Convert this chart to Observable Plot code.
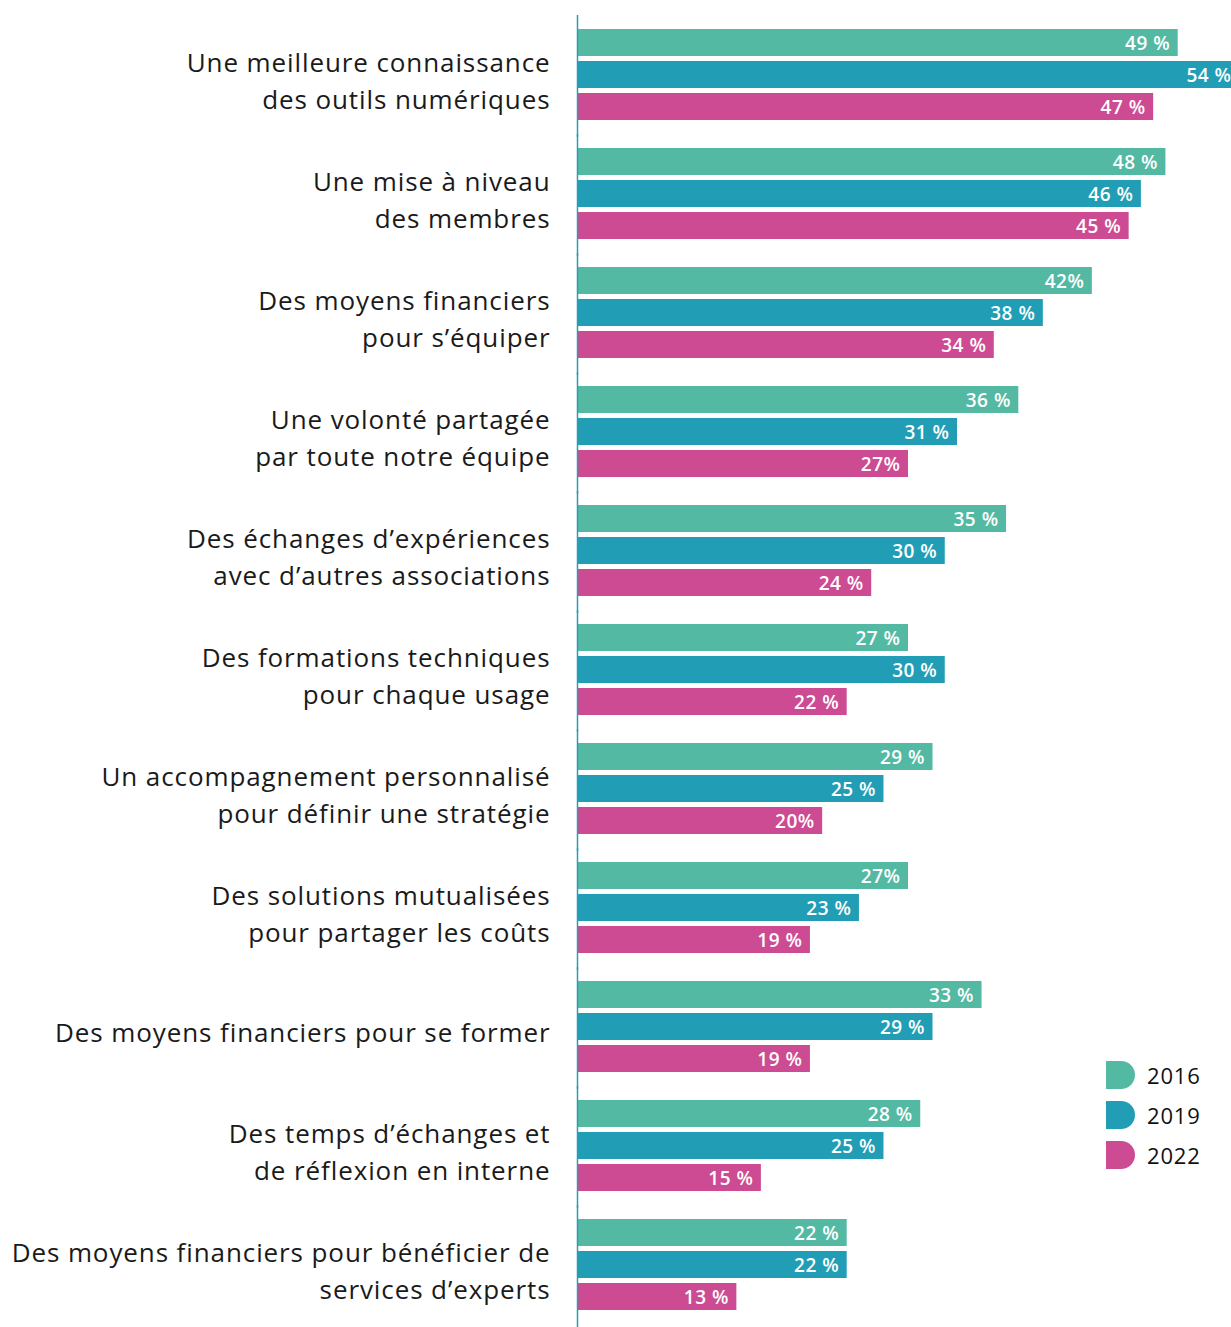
<!DOCTYPE html>
<html>
<head>
<meta charset="utf-8">
<script src="https://cdn.jsdelivr.net/npm/d3@7"></script>
<script src="https://cdn.jsdelivr.net/npm/@observablehq/plot@0.6"></script>
<style>
  html, body { margin: 0; padding: 0; background: #fff; }
  #wrap { position: relative; width: 1231px; height: 1327px; }
  #legend { position: absolute; left: 1106px; top: 1061px; font-family: "Open Sans", sans-serif; font-size: 22px; color: #111; letter-spacing: 0.8px; }
  .item { display: flex; align-items: center; height: 28px; margin-bottom: 12px; }
  .sw { width: 29px; height: 28px; border-radius: 0 14px 14px 0; margin-right: 12px; }
</style>
</head>
<body>
<div id="wrap">
  <div id="chart"></div>
  <div id="legend"></div>
</div>
<script>
const categories = [
  "Une meilleure connaissance\ndes outils numériques",
  "Une mise à niveau\ndes membres",
  "Des moyens financiers\npour s’équiper",
  "Une volonté partagée\npar toute notre équipe",
  "Des échanges d’expériences\navec d’autres associations",
  "Des formations techniques\npour chaque usage",
  "Un accompagnement personnalisé\npour définir une stratégie",
  "Des solutions mutualisées\npour partager les coûts",
  "Des moyens financiers pour se former",
  "Des temps d’échanges et\nde réflexion en interne",
  "Des moyens financiers pour bénéficier de\nservices d’experts"
];
const years = ["2016", "2019", "2022"];
const colors = ["#54b9a3", "#219eb5", "#cd4b93"];
const values2016 = [49, 48, 42, 36, 35, 27, 29, 27, 33, 28, 22];
const values2019 = [54, 46, 38, 31, 30, 30, 25, 23, 29, 25, 22];
const values2022 = [47, 45, 34, 27, 24, 22, 20, 19, 19, 15, 13];
const labels2016 = ["49 %", "48 %", "42%", "36 %", "35 %", "27 %", "29 %", "27%", "33 %", "28 %", "22 %"];
const labels2019 = ["54 %", "46 %", "38 %", "31 %", "30 %", "30 %", "25 %", "23 %", "29 %", "25 %", "22 %"];
const labels2022 = ["47 %", "45 %", "34 %", "27%", "24 %", "22 %", "20%", "19 %", "19 %", "15 %", "13 %"];

const series = [values2016, values2019, values2022];
const seriesLabels = [labels2016, labels2019, labels2022];
const data = [];
categories.forEach((c, i) => {
  years.forEach((y, j) => {
    data.push({cat: c, year: y, value: series[j][i], label: seriesLabels[j][i]});
  });
});

const font = '"Open Sans", sans-serif';

const chart = Plot.plot({
  width: 1231,
  height: 1327,
  marginLeft: 577,
  marginRight: 0,
  marginTop: 29,
  marginBottom: 16,
  style: {fontFamily: font, overflow: "hidden", background: "#fff"},
  x: {domain: [0, 53.35], axis: null},
  y: {domain: years, axis: null, paddingInner: 0.147, paddingOuter: 0},
  fy: {domain: categories, axis: null, paddingInner: 0.227, paddingOuter: 0},
  color: {domain: years, range: colors},
  marks: [
    Plot.barX(data, {fy: "cat", y: "year", x: "value", fill: "year", clip: true}),
    Plot.text(data, {fy: "cat", y: "year", x: "value", text: "label", textAnchor: "end", dx: -8, dy: 1,
      fill: "white", fontWeight: 600, fontSize: 19, clip: true}),
    Plot.text(categories, {fy: d => d, x: () => 0, text: d => d, textAnchor: "end", dx: -27, dy: 3,
      frameAnchor: "middle", fontSize: 26, lineHeight: 1.42, fill: "#1a1a1a"}),
    Plot.ruleX([0], {stroke: "#2a9db5", strokeWidth: 1.5, insetTop: -14, insetBottom: -16})
  ]
});
document.getElementById("chart").appendChild(chart);

// typographic tweak: wider tracking to approximate the original typeface
const textGroups = d3.select(chart).selectAll('g[aria-label="text"]').nodes();
if (textGroups[0]) d3.select(textGroups[0]).attr("letter-spacing", "0.5px");
if (textGroups[1]) d3.select(textGroups[1]).attr("letter-spacing", "0.9px");

const legend = document.getElementById("legend");
years.forEach((y, i) => {
  const item = document.createElement("div");
  item.className = "item";
  const sw = document.createElement("div");
  sw.className = "sw";
  sw.style.background = colors[i];
  const t = document.createElement("span");
  t.textContent = y;
  item.appendChild(sw);
  item.appendChild(t);
  legend.appendChild(item);
});
</script>
</body>
</html>
